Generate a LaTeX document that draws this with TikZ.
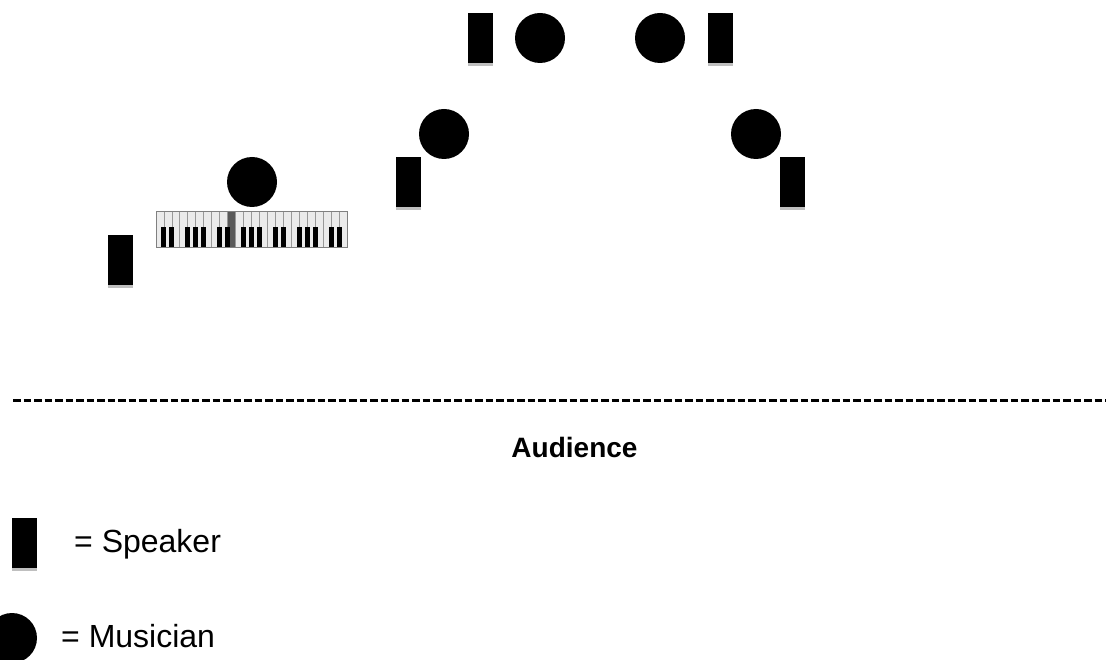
\documentclass[tikz,border=0pt]{standalone}
\usepackage{fontspec}
\setmainfont{Liberation Sans}
\usetikzlibrary{shadows}
\begin{document}
\begin{tikzpicture}[x=1pt,y=-1pt,
  speaker/.style={fill=black, minimum width=25pt, minimum height=50pt, inner sep=0pt,
    drop shadow={shadow xshift=0pt, shadow yshift=-3pt, opacity=0.25, fill=black}},
  musician/.style={circle, fill=black, minimum size=50pt, inner sep=0pt},
  lbl/.style={font=\fontsize{32}{38}\selectfont, anchor=base west, inner sep=0pt},
  whitekey/.style={draw=gray!80, line width=0.8pt},
  blackkey/.style={fill=black}]
\useasboundingbox (0,0) rectangle (1106,660);
% speakers
\node[speaker] (s1) at (120.5,260) {};
\node[speaker] (s2) at (408.5,182) {};
\node[speaker] (s3) at (792,182) {};
\node[speaker] (s4) at (480,38) {};
\node[speaker] (s5) at (720,38) {};
% musicians
\node[musician] (m1) at (540,38) {};
\node[musician] (m2) at (660,38) {};
\node[musician] (m3) at (444,134) {};
\node[musician] (m4) at (756,134) {};
\node[musician] (m5) at (252,182) {};
% keyboard
\fill[black!8] (156,212) rectangle (347,248);
\pgfmathsetmacro{\kw}{191/24}
\fill[black!65] (156+9*\kw,212) rectangle (156+10*\kw,248);
\foreach \i in {1,...,23} {
  \draw[whitekey] (156+\i*\kw,212) -- (156+\i*\kw,248);
}
\foreach \i in {0,1,3,4,5,7,8,10,11,12,14,15,17,18,19,21,22} {
  \fill[blackkey] (156+\i*\kw+\kw-2.5,227) rectangle (156+\i*\kw+\kw+2.5,247);
}
\draw[gray, line width=1pt] (156,212) rectangle (347,248);
% stage edge
\coordinate (e1) at (13,400);
\coordinate (e2) at (1106,400);
\draw[line width=3pt, dash pattern=on 7.5pt off 3pt] (e1) -- (e2);
\node[font=\bfseries\fontsize{28}{34}\selectfont, anchor=base, inner sep=0pt] (aud) at (574.5,457) {Audience};
% legend
\node[speaker] (ls) at (24,542.5) {};
\node[lbl] (lst) at (74,552) {= Speaker};
\node[musician] (lm) at (12,638) {};
\node[lbl] (lmt) at (61,647) {= Musician};
\end{tikzpicture}
\end{document}
